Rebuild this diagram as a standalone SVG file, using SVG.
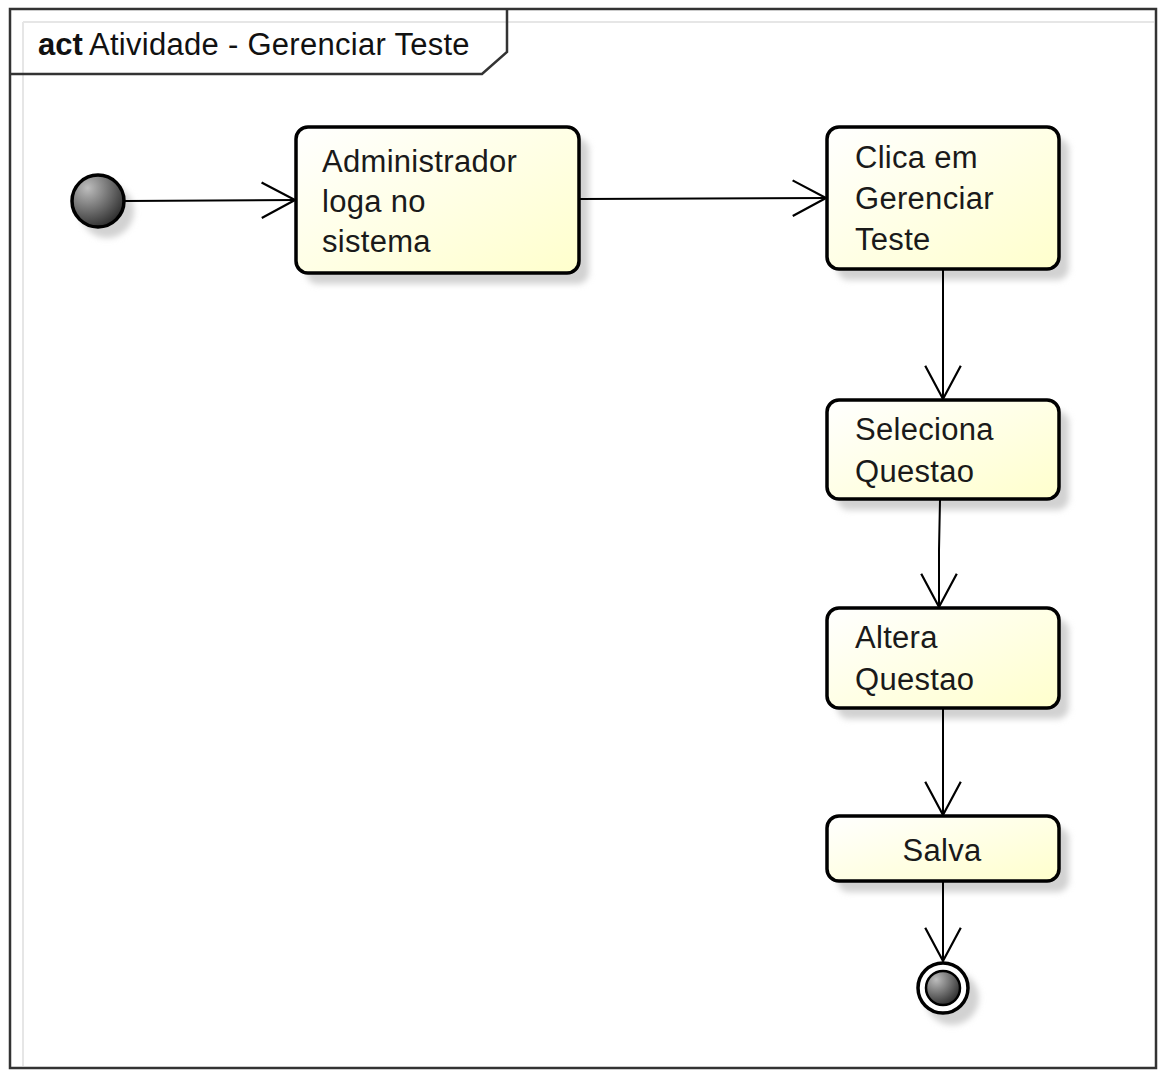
<svg xmlns="http://www.w3.org/2000/svg" width="1160" height="1074" viewBox="0 0 1160 1074">
  <defs>
    <linearGradient id="actFill" x1="0" y1="0" x2="1" y2="1">
      <stop offset="0" stop-color="#ffffff"/>
      <stop offset="1" stop-color="#ffffcc"/>
    </linearGradient>
    <radialGradient id="dotFill" cx="0.3" cy="0.25" r="0.8">
      <stop offset="0" stop-color="#bdbdbd"/>
      <stop offset="1" stop-color="#2e2e2e"/>
    </radialGradient>
    <filter id="soft" x="-20%" y="-20%" width="140%" height="140%">
      <feGaussianBlur stdDeviation="3"/>
    </filter>
    <marker id="openArrow" markerWidth="40" markerHeight="40" viewBox="-32 -18 36 36" refX="0" refY="0" orient="auto" markerUnits="userSpaceOnUse">
      <path d="M-30,-16 L0,0 L-30,16" fill="none" stroke="#000" stroke-width="2"/>
    </marker>
  </defs>
  <style>
    .frame { fill: none; stroke: #333; stroke-width: 2.5; }
    .guide { stroke: #e6e6e6; stroke-width: 2; }
    .shadow { fill: #d2d2d2; filter: url(#soft); }
    .box { fill: url(#actFill); stroke: #000; stroke-width: 3.5; }
    .label { font-family: "Liberation Sans", Arial, sans-serif; font-size: 31px; fill: #1a1a1a; letter-spacing: 0.3px; }
    .title { font-family: "Liberation Sans", Arial, sans-serif; font-size: 31px; fill: #111; }
    .edge { fill: none; stroke: #000; stroke-width: 2; marker-end: url(#openArrow); }
  </style>

  <rect width="1160" height="1074" fill="#fff"/>

  <!-- faint inner guides -->
  <line class="guide" x1="23" y1="22" x2="1154" y2="22"/>
  <line class="guide" x1="23" y1="22" x2="23" y2="1066"/>

  <!-- frame and title tab -->
  <rect class="frame" x="10" y="9" width="1146" height="1059"/>
  <path class="frame" d="M10,74 L482,74 L507,52 L507,9"/>
  <text class="title" x="38" y="55"><tspan font-weight="bold">act</tspan><tspan x="89" letter-spacing="0.28">Atividade - Gerenciar Teste</tspan></text>

  <!-- initial node -->
  <g id="start">
    <circle class="shadow" cx="107" cy="211" r="27"/>
    <circle cx="98" cy="201" r="26" fill="url(#dotFill)" stroke="#000" stroke-width="3.5"/>
  </g>

  <g id="n1">
    <rect class="shadow" x="306" y="138" width="283" height="146" rx="12"/>
    <rect class="box" x="296" y="127" width="283" height="146" rx="12"/>
    <text class="label" x="322" y="172">Administrador</text>
    <text class="label" x="322" y="212">loga no</text>
    <text class="label" x="322" y="252">sistema</text>
  </g>

  <g id="n2">
    <rect class="shadow" x="837" y="138" width="232" height="142" rx="12"/>
    <rect class="box" x="827" y="127" width="232" height="142" rx="12"/>
    <text class="label" x="855" y="168">Clica em</text>
    <text class="label" x="855" y="209">Gerenciar</text>
    <text class="label" x="855" y="250">Teste</text>
  </g>

  <g id="n3">
    <rect class="shadow" x="837" y="411" width="232" height="99" rx="12"/>
    <rect class="box" x="827" y="400" width="232" height="99" rx="12"/>
    <text class="label" x="855" y="440">Seleciona</text>
    <text class="label" x="855" y="482">Questao</text>
  </g>

  <g id="n4">
    <rect class="shadow" x="837" y="619" width="232" height="100" rx="12"/>
    <rect class="box" x="827" y="608" width="232" height="100" rx="12"/>
    <text class="label" x="855" y="648">Altera</text>
    <text class="label" x="855" y="690">Questao</text>
  </g>

  <g id="n5">
    <rect class="shadow" x="837" y="827" width="232" height="65" rx="12"/>
    <rect class="box" x="827" y="816" width="232" height="65" rx="12"/>
    <text class="label" x="942" y="861" text-anchor="middle">Salva</text>
  </g>

  <!-- final node -->
  <g id="end">
    <circle class="shadow" cx="952" cy="998" r="27"/>
    <circle cx="943" cy="988" r="25" fill="#fff" stroke="#000" stroke-width="3.5"/>
    <circle cx="943" cy="988" r="17" fill="url(#dotFill)" stroke="#000" stroke-width="2.5"/>
  </g>

  <!-- control flows -->
  <g id="connectors">
    <line class="edge" x1="125" y1="201" x2="295" y2="200"/>
    <line class="edge" x1="580" y1="199" x2="826" y2="198"/>
    <line class="edge" x1="943" y1="270" x2="943" y2="399"/>
    <path class="edge" d="M940,500 L939,550 L939,607"/>
    <line class="edge" x1="943" y1="709" x2="943" y2="815"/>
    <line class="edge" x1="943" y1="882" x2="943" y2="961"/>
  </g>
</svg>
